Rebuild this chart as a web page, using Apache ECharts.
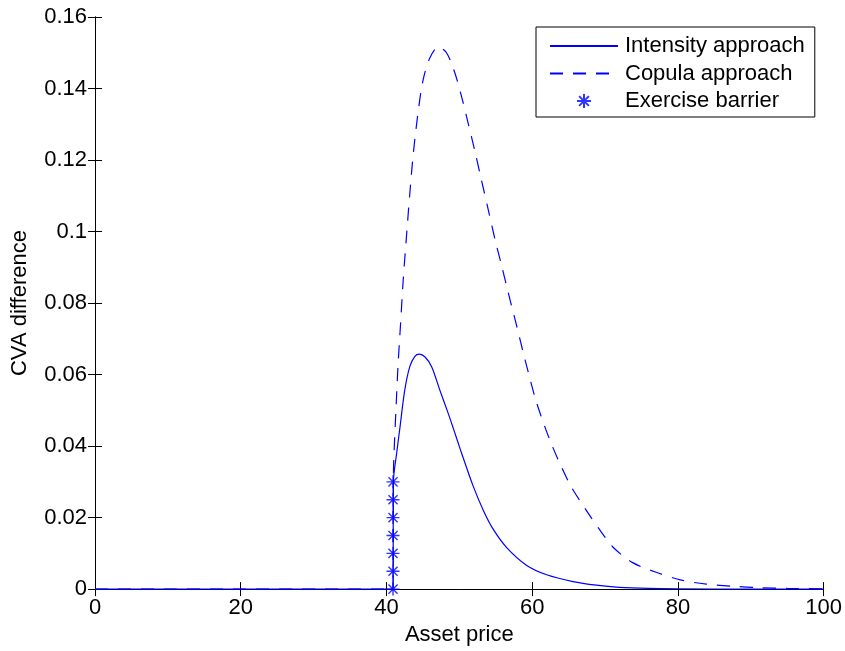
<!DOCTYPE html>
<html>
<head>
<meta charset="utf-8">
<script src="https://cdn.jsdelivr.net/npm/echarts@6/dist/echarts.min.js"></script>
<style>html,body{margin:0;padding:0;background:#fff;}#c{width:845px;height:651px;}</style>
</head>
<body>
<div id="c"></div>
<script>
var xTicks = [0, 20, 40, 60, 80, 100];
var yTicks = [0, 0.02, 0.04, 0.06, 0.08, 0.1, 0.12, 0.14, 0.16];

var intensityX = [0, 40.9, 40.95, 41.4, 41.84, 42.5, 43.2, 43.9, 44.5, 45.3, 46.2, 47.3, 48.5, 49.2, 50.1, 50.6, 51.9, 53.3, 54.6, 56.5, 59.2, 62.0, 65.6, 68.8, 72, 76, 80, 90, 100];
var intensityY = [0, 0, 0.030, 0.038, 0.045, 0.0555, 0.0622, 0.0651, 0.0657, 0.0649, 0.0622, 0.0558, 0.0490, 0.0448, 0.0393, 0.0363, 0.0288, 0.0220, 0.0169, 0.0116, 0.0067, 0.0040, 0.0021, 0.0011, 0.0005, 0.0002, 0.0001, 0, 0];

var copulaX = [0, 40.9, 40.95, 41.0, 41.3, 41.6, 41.93, 42.3, 42.76, 43.2, 43.67, 44.35, 45.04, 45.95, 47.1, 48.24, 49.38, 50.3, 51.2, 52.1, 53.0, 53.95, 54.87, 55.8, 56.7, 57.85, 59.0, 60.6, 62.6, 65.2, 67.5, 69.3, 71.1, 73.8, 77.0, 80.5, 83.9, 87.6, 91.2, 95, 100];
var copulaY = [0, 0, 0.030, 0.036, 0.050, 0.063, 0.074, 0.0865, 0.099, 0.1105, 0.1215, 0.1335, 0.1425, 0.1485, 0.1516, 0.1500, 0.1444, 0.1378, 0.1304, 0.1228, 0.1147, 0.1063, 0.0980, 0.0905, 0.0830, 0.0738, 0.0643, 0.0522, 0.0408, 0.0292, 0.0218, 0.0165, 0.0117, 0.0074, 0.0047, 0.0025, 0.0014, 0.0008, 0.0004, 0.0002, 0.0001];

var barrierX = [40.9, 40.9, 40.9, 40.9, 40.9, 40.9, 40.9];
var barrierY = [0, 0.005, 0.01, 0.015, 0.02, 0.025, 0.03];

var seriesNames = ['Intensity approach', 'Copula approach', 'Exercise barrier'];

function zip(a, b) { return a.map(function (v, i) { return [v, b[i]]; }); }

var FONT = 'Liberation Sans, Arial, Helvetica, sans-serif';
var BLUE = '#0000ff';
var star = 'path://M5,0L5,10M0,5L10,5M1.5,1.5L8.5,8.5M1.5,8.5L8.5,1.5';

var chart = echarts.init(document.getElementById('c'), null, {renderer: 'canvas'});
var baseX = {
  type: 'value', min: xTicks[0], max: xTicks[xTicks.length - 1], interval: 20,
  axisLine: {show: true, lineStyle: {color: '#000', width: 1}},
  axisTick: {show: true, inside: true, length: 7, lineStyle: {color: '#000'}},
  splitLine: {show: false}
};
var baseY = {
  type: 'value', min: yTicks[0], max: yTicks[yTicks.length - 1], interval: 0.02,
  axisLine: {show: true, lineStyle: {color: '#000', width: 1}},
  axisTick: {show: true, inside: true, length: 7, lineStyle: {color: '#000'}},
  splitLine: {show: false}
};
chart.setOption({
  animation: false,
  backgroundColor: '#fff',
  grid: {left: 95, right: 21, top: 17, bottom: 59, containLabel: false},
  xAxis: [
    Object.assign({}, baseX, {
      position: 'bottom',
      name: 'Asset price', nameLocation: 'middle', nameGap: 30,
      nameTextStyle: {fontFamily: FONT, fontSize: 22, color: '#000', verticalAlign: 'top'},
      axisLabel: {show: true, margin: 8, fontFamily: FONT, fontSize: 22, color: '#000'}
    }),
    Object.assign({}, baseX, {position: 'top', axisLabel: {show: false}})
  ],
  yAxis: [
    Object.assign({}, baseY, {
      position: 'left',
      name: 'CVA difference', nameLocation: 'middle', nameGap: 64, nameRotate: 90,
      nameTextStyle: {fontFamily: FONT, fontSize: 22, color: '#000'},
      axisLabel: {show: true, margin: 8, fontFamily: FONT, fontSize: 22, color: '#000',
        formatter: function (v) { return String(+v.toFixed(2)); }}
    }),
    Object.assign({}, baseY, {position: 'right', axisLabel: {show: false}})
  ],
  legend: {
    show: true,
    orient: 'vertical',
    left: 536, top: 27,
    padding: [8, 10, 5, 13],
    itemWidth: 68, itemHeight: 14, itemGap: 5.5,
    borderColor: '#000', borderWidth: 1, backgroundColor: '#fff',
    textStyle: {fontFamily: FONT, fontSize: 22, color: '#000', padding: [0, 0, 0, 2]},
    data: [
      {name: seriesNames[0], itemStyle: {opacity: 0}},
      {name: seriesNames[1], itemStyle: {opacity: 0}},
      {name: seriesNames[2]}
    ]
  },
  series: [
    {
      name: seriesNames[0], type: 'line', data: zip(intensityX, intensityY),
      showSymbol: false, symbol: 'none', smooth: 0.3,
      lineStyle: {color: BLUE, width: 1.2, type: 'solid'},
      itemStyle: {color: BLUE}
    },
    {
      name: seriesNames[1], type: 'line', data: zip(copulaX, copulaY),
      showSymbol: false, symbol: 'none', smooth: 0.3,
      lineStyle: {color: BLUE, width: 1.2, type: [13, 10]},
      itemStyle: {color: BLUE}
    },
    {
      name: seriesNames[2], type: 'scatter', data: zip(barrierX, barrierY),
      symbol: star, symbolSize: 13,
      itemStyle: {color: 'rgba(0,0,0,0)', borderColor: BLUE, borderWidth: 1.4}
    }
  ]
});
</script>
</body>
</html>
